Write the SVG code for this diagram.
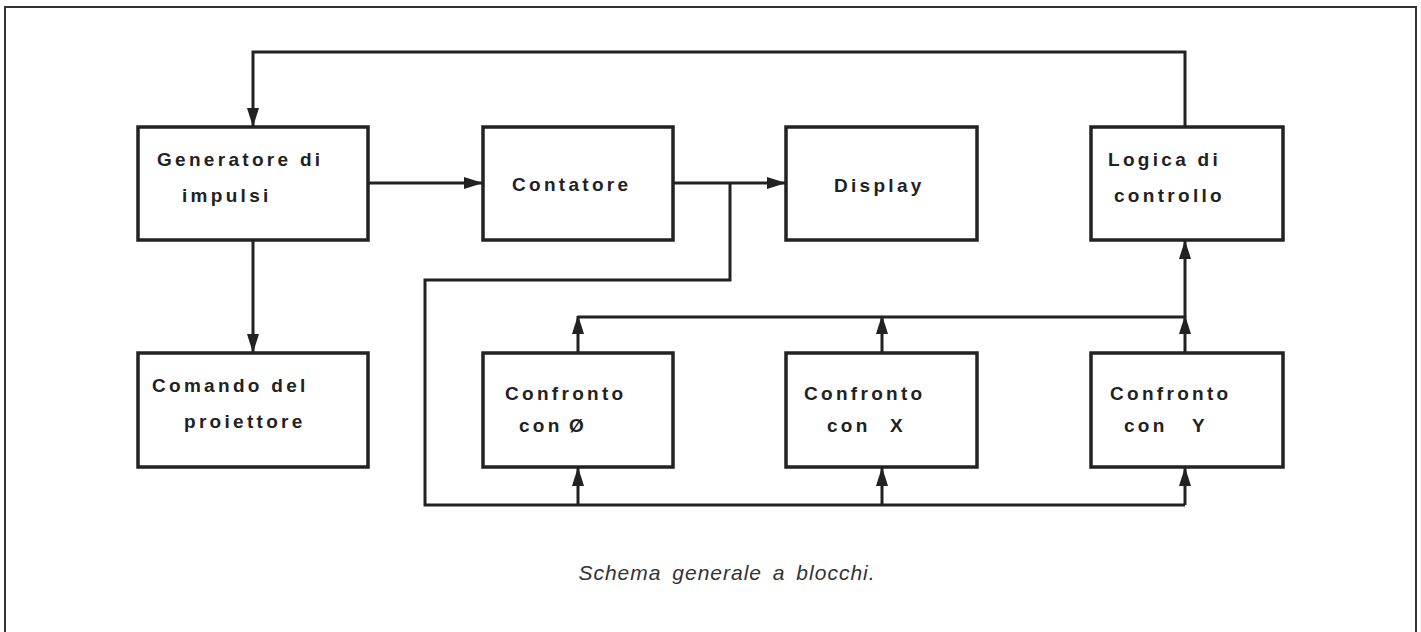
<svg xmlns="http://www.w3.org/2000/svg" width="1421" height="632" viewBox="0 0 1421 632">
<style>
.box{fill:none;stroke:#222;stroke-width:3.5}
.ln{fill:none;stroke:#222;stroke-width:3}
.t{font-family:"Liberation Sans",Arial,sans-serif;font-weight:bold;font-size:19px;letter-spacing:3.3px;fill:#222}
.cap{font-family:"Liberation Sans",Arial,sans-serif;font-style:italic;font-size:21px;fill:#333;letter-spacing:1px;word-spacing:4px}
</style>
<defs>
<marker id="ah" markerWidth="19" markerHeight="13" refX="18" refY="6.5" orient="auto" markerUnits="userSpaceOnUse">
<path d="M0,0.5 L19,6.5 L0,12.5 Z" fill="#222"/>
</marker>
</defs>
<rect width="1421" height="632" fill="#fff"/>
<path d="M5,632 V7 H1416 V632" fill="none" stroke="#333" stroke-width="2"/>
<g id="connectors">
<path class="ln" d="M1185,127 V52 H253 V126" marker-end="url(#ah)"/>
<path class="ln" d="M368,183 H482" marker-end="url(#ah)"/>
<path class="ln" d="M673,183 H785" marker-end="url(#ah)"/>
<path class="ln" d="M253,240 V352" marker-end="url(#ah)"/>
<path class="ln" d="M730,183 V280 H425 V505 H1185"/>
<path class="ln" d="M578,505 V468" marker-end="url(#ah)"/>
<path class="ln" d="M882,505 V468" marker-end="url(#ah)"/>
<path class="ln" d="M1185,505 V468" marker-end="url(#ah)"/>
<path class="ln" d="M578,353 V316" marker-end="url(#ah)"/>
<path class="ln" d="M882,353 V316" marker-end="url(#ah)"/>
<path class="ln" d="M1185,353 V316" marker-end="url(#ah)"/>
<path class="ln" d="M578,317 H1185"/>
<path class="ln" d="M1185,317 V241" marker-end="url(#ah)"/>
</g>
<g id="generatore">
<rect class="box" x="138" y="127" width="230" height="113"/>
<text class="t" x="157" y="166">Generatore di</text>
<text class="t" x="182" y="202">impulsi</text>
</g>
<g id="contatore">
<rect class="box" x="483" y="127" width="190" height="113"/>
<text class="t" x="512" y="191">Contatore</text>
</g>
<g id="display">
<rect class="box" x="786" y="127" width="191" height="113"/>
<text class="t" x="834" y="192">Display</text>
</g>
<g id="logica">
<rect class="box" x="1091" y="127" width="192" height="113"/>
<text class="t" x="1108" y="166">Logica di</text>
<text class="t" x="1114" y="202">controllo</text>
</g>
<g id="comando">
<rect class="box" x="138" y="353" width="230" height="114"/>
<text class="t" x="152" y="392">Comando del</text>
<text class="t" x="184" y="428">proiettore</text>
</g>
<g id="confronto0">
<rect class="box" x="483" y="353" width="190" height="114"/>
<text class="t" x="505" y="400">Confronto</text>
<text class="t" x="519" y="432">con</text>
<text class="t" x="569" y="432">Ø</text>
</g>
<g id="confrontoX">
<rect class="box" x="786" y="353" width="191" height="114"/>
<text class="t" x="804" y="400">Confronto</text>
<text class="t" x="827" y="432">con</text>
<text class="t" x="890" y="432">X</text>
</g>
<g id="confrontoY">
<rect class="box" x="1091" y="353" width="192" height="114"/>
<text class="t" x="1110" y="400">Confronto</text>
<text class="t" x="1124" y="432">con</text>
<text class="t" x="1192" y="432">Y</text>
</g>
<text class="cap" x="727" y="580" text-anchor="middle">Schema generale a blocchi.</text>
</svg>
